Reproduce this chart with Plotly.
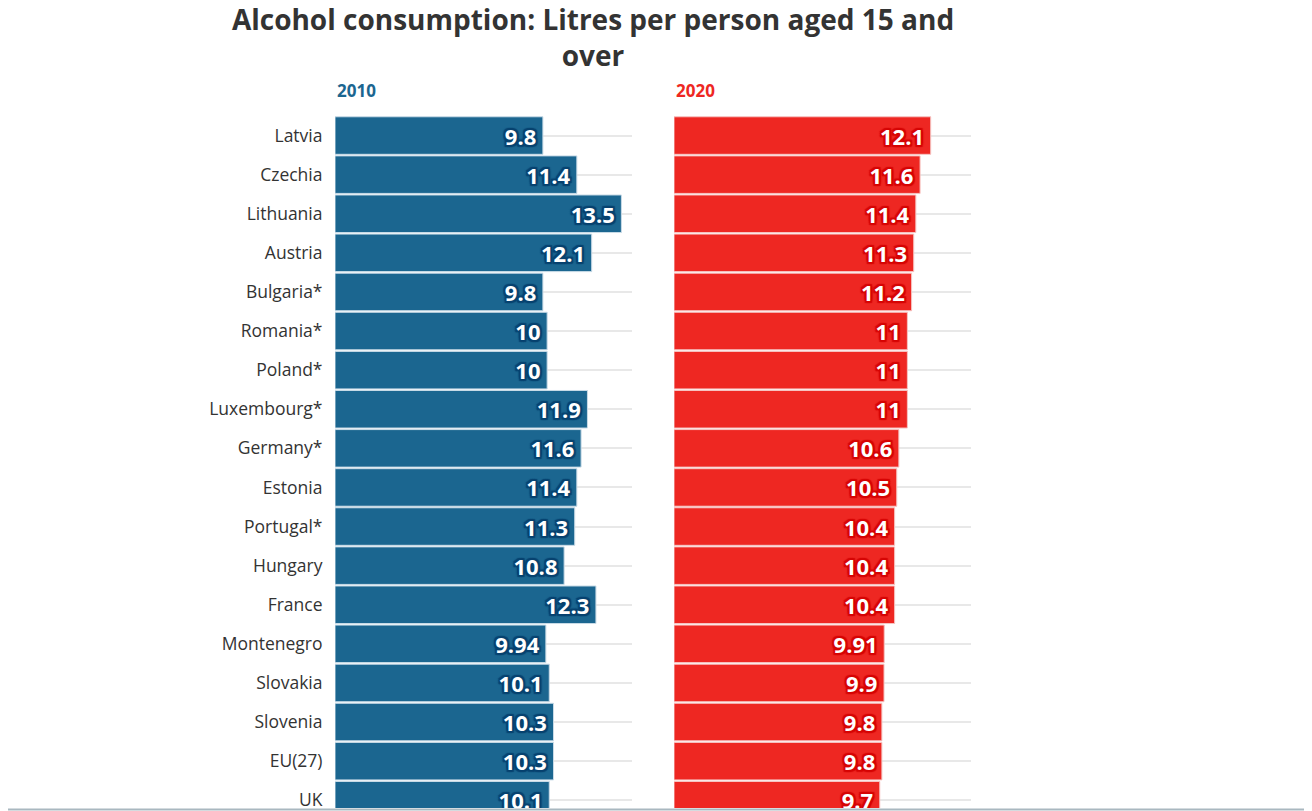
import plotly.graph_objects as go

countries = ["Latvia", "Czechia", "Lithuania", "Austria", "Bulgaria*", "Romania*",
             "Poland*", "Luxembourg*", "Germany*", "Estonia", "Portugal*", "Hungary",
             "France", "Montenegro", "Slovakia", "Slovenia", "EU(27)", "UK"]
litres_2010 = [9.8, 11.4, 13.5, 12.1, 9.8, 10, 10, 11.9, 11.6, 11.4, 11.3, 10.8,
               12.3, 9.94, 10.1, 10.3, 10.3, 10.1]
litres_2020 = [12.1, 11.6, 11.4, 11.3, 11.2, 11, 11, 11, 10.6, 10.5, 10.4, 10.4,
               10.4, 9.91, 9.9, 9.8, 9.8, 9.7]

blue = "#1b6690"
red = "#ee2722"
W, H = 1312, 811
top, bottom = 108, 800  # plot area in figure pixels
ph = bottom - top

def outline(c, d=2):
    pts = [(-d, -d), (0, -d), (d, -d), (-d, 0), (d, 0), (-d, d), (0, d), (d, d)]
    return ", ".join(f"{dx}px {dy}px 1px {c}" for dx, dy in pts)

fig = go.Figure()
fig.add_trace(go.Bar(
    y=countries, x=litres_2010, orientation="h", xaxis="x", yaxis="y",
    marker=dict(color=blue, line=dict(color="#c9dbe7", width=1)),
    texttemplate="%{x}\u2009", textposition="inside", insidetextanchor="end",
    textfont=dict(family="Open Sans", size=22, color="white", weight="bold",
                  shadow=outline("#084370")),
    hoverinfo="x+y", showlegend=False))
fig.add_trace(go.Bar(
    y=countries, x=litres_2020, orientation="h", xaxis="x2", yaxis="y2",
    marker=dict(color=red, line=dict(color="#f6c4c2", width=1)),
    texttemplate="%{x}\u2009", textposition="inside", insidetextanchor="end",
    textfont=dict(family="Open Sans", size=22, color="white", weight="bold",
                  shadow=outline("#d60505")),
    hoverinfo="x+y", showlegend=False))

yr = [-0.5 + ph / 39.1, -0.5]
fig.update_layout(
    width=W, height=H,
    margin=dict(l=0, r=0, t=top, b=H - bottom),
    paper_bgcolor="white", plot_bgcolor="white",
    bargap=0.04,
    font=dict(family="Open Sans", color="#333333"),
    title=dict(text="Alcohol consumption: Litres per person aged 15 and<br>over",
               x=585 / W, xanchor="center", y=1 - 22 / H, yanchor="middle",
               font=dict(family="Open Sans", size=28, color="#333333", weight="bold")),
    xaxis=dict(domain=[327 / W, 624 / W], range=[0, 14], showgrid=False,
               showticklabels=False, zeroline=False, fixedrange=True),
    xaxis2=dict(domain=[666 / W, 963 / W], range=[0, 14], showgrid=False,
                showticklabels=False, zeroline=False, fixedrange=True),
    yaxis=dict(range=yr, showgrid=True, gridcolor="#e8e8e8", gridwidth=2,
               ticks="outside", ticklen=8, tickcolor="rgba(0,0,0,0)",
               tickfont=dict(family="Open Sans", size=17.5, color="#333333"),
               fixedrange=True),
    yaxis2=dict(range=yr, anchor="x2", matches="y", showgrid=True, gridcolor="#e8e8e8",
                gridwidth=2, showticklabels=False, fixedrange=True),
    annotations=[
        dict(text="2010", xref="paper", yref="paper", x=327 / W, xanchor="left",
             y=(bottom - 82) / ph, yanchor="middle", showarrow=False,
             font=dict(size=17, color=blue, weight="bold")),
        dict(text="2020", xref="paper", yref="paper", x=666 / W, xanchor="left",
             y=(bottom - 82) / ph, yanchor="middle", showarrow=False,
             font=dict(size=17, color=red, weight="bold")),
    ],
    shapes=[dict(type="line", xref="paper", yref="paper", x0=-0.1, x1=1.1,
                 y0=-1.5 / ph, y1=-1.5 / ph,
                 line=dict(color="#a9b8c0", width=2))],
)

fig.write_html("out.html")
